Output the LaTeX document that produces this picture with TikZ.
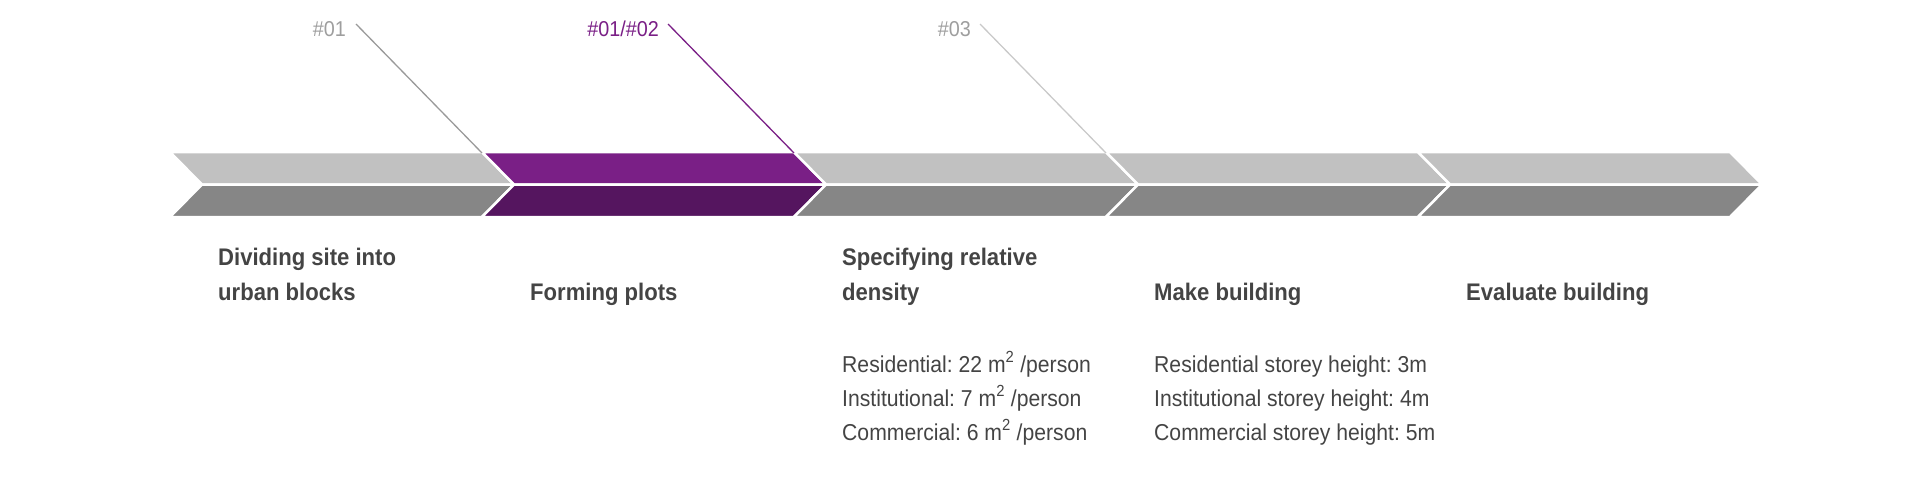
\documentclass[tikz,border=0pt]{standalone}
\usepackage{fontspec}
\setmainfont{Liberation Sans}[FakeStretch=0.92]
\usepackage{tikz}
\usetikzlibrary{positioning}
\frenchspacing

\definecolor{gtop}{HTML}{C1C1C1}
\definecolor{gbot}{HTML}{868686}
\definecolor{ptop}{HTML}{7A1F86}
\definecolor{pbot}{HTML}{55155F}
\definecolor{txt}{HTML}{444444}
\definecolor{tagc}{HTML}{9E9E9E}
\definecolor{leadg}{HTML}{9A9A9A}
\definecolor{leadl}{HTML}{C9C9C9}

\begin{document}
\begin{tikzpicture}[x=1pt, y=-1pt, seg/.style={draw=white, line width=2.5pt, line join=miter}, head/.style={anchor=base west, align=left, inner sep=0pt, text=txt, font=\fontsize{24}{35}\selectfont\bfseries}, info/.style={anchor=base west, align=left, inner sep=0pt, text=txt, font=\fontsize{23}{34}\selectfont}, tag/.style={anchor=base east, inner sep=0pt, font=\fontsize{21.5}{25}\selectfont}, lead/.style={line width=1.3pt}]
          \useasboundingbox (0,0) rectangle (1918,503);

          % arrow band
          \path[seg, fill=gtop] (170,152) -- (482,152) -- (514,184.5) -- (202,184.5) -- cycle;
          \path[seg, fill=gbot] (202,184.5) -- (514,184.5) -- (482,217) -- (170,217) -- cycle;
          \path[seg, fill=ptop] (482,152) -- (794,152) -- (826,184.5) -- (514,184.5) -- cycle;
          \path[seg, fill=pbot] (514,184.5) -- (826,184.5) -- (794,217) -- (482,217) -- cycle;
          \path[seg, fill=gtop] (794,152) -- (1106,152) -- (1138,184.5) -- (826,184.5) -- cycle;
          \path[seg, fill=gbot] (826,184.5) -- (1138,184.5) -- (1106,217) -- (794,217) -- cycle;
          \path[seg, fill=gtop] (1106,152) -- (1418,152) -- (1450,184.5) -- (1138,184.5) -- cycle;
          \path[seg, fill=gbot] (1138,184.5) -- (1450,184.5) -- (1418,217) -- (1106,217) -- cycle;
          \path[seg, fill=gtop] (1418,152) -- (1730,152) -- (1762,184.5) -- (1450,184.5) -- cycle;
          \path[seg, fill=gbot] (1450,184.5) -- (1762,184.5) -- (1730,217) -- (1418,217) -- cycle;

          % tags and leaders
          \coordinate (c1) at (482,153);
          \coordinate (c2) at (794,153);
          \coordinate (c3) at (1106,153);
          \coordinate (s1) at (356,24);
          \coordinate (s2) at (668,24);
          \coordinate (s3) at (980,24);
          \node[tag, text=tagc] (t1) at ([xshift=-10, yshift=-13]s1) {\#01};
          \node[tag, text=ptop] (t2) at ([xshift=-9, yshift=-13]s2) {\#01/\#02};
          \node[tag, text=tagc] (t3) at ([xshift=-9, yshift=-13]s3) {\#03};
          \draw[lead, leadg] (s1) -- (c1);
          \draw[lead, ptop] (s2) -- (c2);
          \draw[lead, leadl] (s3) -- (c3);

          % steps (base = last line)
          \node[head] (h1) at (218,300) {Dividing site into\\urban blocks};
          \node[head] (h2) at (530,300) {Forming plots};
          \node[head] (h3) at (842,300) {Specifying relative\\density};
          \node[head] (h4) at (1154,300) {Make building};
          \node[head] (h5) at (1466,300) {Evaluate building};

          \node[info] (d3) at (842,440) {Residential: 22 m\textsuperscript{2} /person\\Institutional: 7 m\textsuperscript{2} /person\\Commercial: 6 m\textsuperscript{2} /person};
          \node[info] (d4) at (1154,440) {Residential storey height: 3m\\Institutional storey height: 4m\\Commercial storey height: 5m};
        \end{tikzpicture}
\end{document}
